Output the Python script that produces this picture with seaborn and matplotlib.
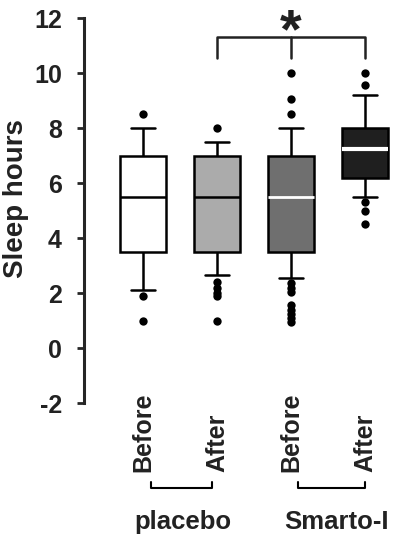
import pandas as pd
import matplotlib
matplotlib.use("Agg")
import matplotlib.pyplot as plt
import matplotlib.transforms as mtransforms
import seaborn as sns

# box summary values (lower whisker, Q1, median, Q3, upper whisker)
groups = ["Placebo before", "Placebo after", "Smarto-I before", "Smarto-I after"]
tick_labels = ["Before", "After", "Before", "After"]
whisker_low = [2.1, 2.65, 2.55, 5.5]
q1 = [3.5, 3.5, 3.5, 6.2]
median = [5.5, 5.5, 5.5, 7.25]
q3 = [7.0, 7.0, 7.0, 8.0]
whisker_high = [8.0, 7.5, 8.0, 9.2]

# outliers drawn as dots
outliers = {
    "Placebo before": [8.5, 1.9, 1.0],
    "Placebo after": [8.0, 2.4, 2.2, 2.0, 1.9, 1.0],
    "Smarto-I before": [10.0, 9.05, 8.5, 2.35, 2.2, 2.05, 1.55, 1.4, 1.25, 1.1, 0.95],
    "Smarto-I after": [10.0, 9.55, 5.3, 5.0, 4.5],
}

box_colors = ["#ffffff", "#ababab", "#6f6f6f", "#1f1f1f"]
median_colors = ["black", "black", "white", "white"]
median_widths = [1.8, 1.8, 2.0, 3.0]

#%%

rows = []
for i, g in enumerate(groups):
    for v in [whisker_low[i], q1[i], median[i], q3[i], whisker_high[i]]:
        rows.append({"group": g, "hours": v})
boxes = pd.DataFrame(rows)

dots = pd.DataFrame([{"group": g, "hours": v}
                     for g in groups for v in outliers[g]])

sns.set_style("ticks")
plt.rcParams["font.family"] = ["Liberation Sans", "DejaVu Sans"]
plt.rcParams["axes.unicode_minus"] = False
text_col = "#222222"

fig = plt.figure(figsize=(3.96, 5.43), dpi=100)
ax = fig.add_axes([0.2121, 0.2578, 0.7879, 0.709])

sns.boxplot(data=boxes, x="group", y="hours", hue="group", order=groups,
            palette=box_colors, legend=False, width=0.63, whis=(0, 100),
            linewidth=1.8, linecolor="black", saturation=1, fliersize=0,
            ax=ax)

for cont, col, lw in zip(ax.containers, median_colors, median_widths):
    for m in cont.medians:
        m.set_color(col)
        m.set_linewidth(lw)

sns.stripplot(data=dots, x="group", y="hours", order=groups, jitter=False,
              color="black", size=6, ax=ax, zorder=5)

ax.set_ylim(-2, 12)
ax.set_xlim(-0.8, 3.42)
ax.set_yticks(range(-2, 13, 2))
ax.set_xticks([])
ax.set_xlabel("")
ax.set_ylabel("Sleep hours", fontsize=20, fontweight="bold", color=text_col)
ax.yaxis.set_label_coords(-0.176, 0.53)
ax.tick_params(axis="y", length=5, width=2, pad=11, labelsize=18,
               labelcolor=text_col)
for lab in ax.get_yticklabels():
    lab.set_fontweight("bold")

sns.despine(ax=ax, bottom=True)
ax.spines["left"].set_linewidth(2.2)

# category labels under the axis
trans = mtransforms.blended_transform_factory(ax.transData, ax.transAxes)
for i, lab in enumerate(tick_labels):
    ax.text(i, -0.179, lab, transform=trans, rotation=90, ha="center",
            va="bottom", fontsize=18, fontweight="bold", color=text_col,
            clip_on=False)

# group brackets
for x0, x1 in [(0.1, 0.93), (2.1, 3.0)]:
    ax.plot([x0, x0, x1, x1], [-0.205, -0.221, -0.221, -0.205], color="black",
            lw=1.5, transform=trans, clip_on=False)
ax.text(0.54, -0.309, "placebo", transform=trans, ha="center", va="center",
        fontsize=18.5, fontweight="bold", color=text_col)
ax.text(2.62, -0.309, "Smarto-I", transform=trans, ha="center", va="center",
        fontsize=18.5, fontweight="bold", color=text_col)

# significance bracket
ax.plot([1, 1, 3, 3], [10.55, 11.3, 11.3, 10.55], color="#222222", lw=1.8,
        clip_on=False)
ax.plot([2, 2], [11.3, 10.55], color="#222222", lw=1.8, clip_on=False)
ax.text(2, 10.95, "*", ha="center", va="baseline", fontsize=40,
        fontweight="bold", color=text_col, clip_on=False)

fig.savefig("out.png", dpi=100)
